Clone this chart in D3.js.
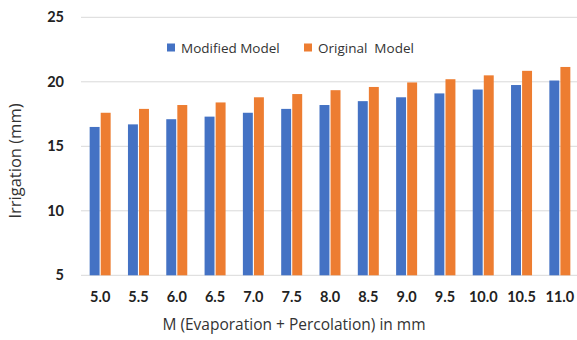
<!DOCTYPE html>
<html>
<head>
<meta charset="utf-8">
<script src="https://cdn.jsdelivr.net/npm/d3@7"></script>
<style>
  html, body { margin: 0; padding: 0; background: #fff; }
  svg { display: block; font-family: "Open Sans", "Noto Sans", sans-serif; }
</style>
</head>
<body>
<svg id="chart" width="577" height="340"></svg>
<script>
// M values (evaporation + percolation, mm)
const categories = ["5.0", "5.5", "6.0", "6.5", "7.0", "7.5", "8.0", "8.5", "9.0", "9.5", "10.0", "10.5", "11.0"];
// Irrigation (mm) per model
const modifiedModel = [16.5, 16.7, 17.1, 17.3, 17.6, 17.9, 18.2, 18.5, 18.8, 19.1, 19.4, 19.75, 20.1];
const originalModel = [17.6, 17.9, 18.2, 18.4, 18.8, 19.05, 19.35, 19.6, 19.95, 20.2, 20.5, 20.85, 21.15];
const seriesNames = ["Modified Model", "Original  Model"];
const yTicks = [5, 10, 15, 20, 25];

const colors = ["#4472C4", "#ED7D31"];
const series = [modifiedModel, originalModel];

const svg = d3.select("#chart");
const plot = { left: 81, right: 579, top: 17.3, bottom: 275.3 };

const x = d3.scaleBand().domain(categories).range([plot.left, plot.right]).padding(0);
const xInner = d3.scaleBand().domain(d3.range(series.length)).range([-10.5, 10.5]).paddingInner(0.1);
const y = d3.scaleLinear().domain([5, 25]).range([plot.bottom, plot.top]);

// horizontal gridlines
svg.append("g")
  .selectAll("line")
  .data(yTicks)
  .join("line")
  .attr("x1", plot.left).attr("x2", plot.right)
  .attr("y1", d => y(d)).attr("y2", d => y(d))
  .attr("stroke", "#d9d9d9").attr("stroke-width", 1);

// bars
series.forEach((vals, si) => {
  svg.append("g")
    .selectAll("rect")
    .data(vals)
    .join("rect")
    .attr("x", (d, i) => x(categories[i]) + x.bandwidth() / 2 + xInner(si))
    .attr("width", xInner.bandwidth())
    .attr("y", d => y(d))
    .attr("height", d => y(5) - y(d))
    .attr("fill", colors[si]);
});

// y axis labels
const yAxis = d3.axisLeft(y).tickValues(yTicks).tickSize(0).tickPadding(0);
const gy = svg.append("g").attr("transform", `translate(64,0)`).call(yAxis);
gy.select(".domain").remove();
gy.selectAll("text")
  .attr("font-size", 14.5).attr("font-weight", "bold").attr("fill", "#222")
  .attr("font-family", "Lato, sans-serif");

// x axis labels
const xAxis = d3.axisBottom(x).tickSize(0).tickPadding(0);
const gx = svg.append("g").attr("transform", `translate(0,292)`).call(xAxis);
gx.select(".domain").remove();
gx.selectAll("text")
  .attr("font-size", 14.5).attr("font-weight", "bold").attr("fill", "#222")
  .attr("font-family", "Lato, sans-serif");

// axis titles
svg.append("text")
  .attr("x", 294).attr("y", 330)
  .attr("text-anchor", "middle")
  .attr("font-size", 15.5).attr("fill", "#333")
  .text("M (Evaporation + Percolation) in mm");

svg.append("text")
  .attr("transform", "translate(21,161) rotate(-90)")
  .attr("text-anchor", "middle")
  .attr("font-size", 16.5).attr("fill", "#333")
  .text("Irrigation (mm)");

// legend
const legendX = [167, 304];
const lg = svg.append("g");
seriesNames.forEach((name, i) => {
  lg.append("rect")
    .attr("x", legendX[i]).attr("y", 43.5)
    .attr("width", 8).attr("height", 8)
    .attr("fill", colors[i]);
  lg.append("text")
    .attr("x", legendX[i] + 14).attr("y", 53)
    .attr("font-size", 13.5).attr("fill", "#333")
    .attr("xml:space", "preserve")
    .style("white-space", "pre")
    .text(name);
});
</script>
</body>
</html>
